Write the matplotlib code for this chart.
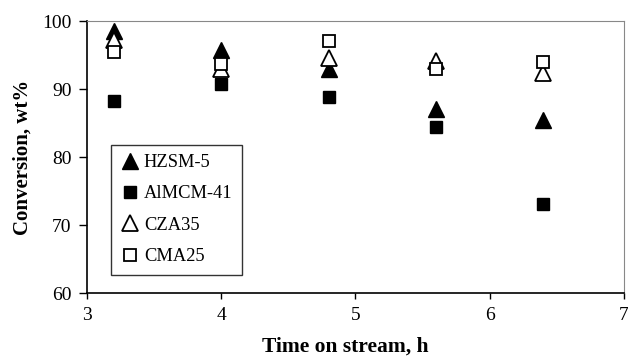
import matplotlib
matplotlib.use("Agg")
import matplotlib.pyplot as plt

# Tempo de reacao (h) e conversao (wt%) por catalisador
tempo = [3.2, 4.0, 4.8, 5.6, 6.4]
hzsm5 = [98.6, 95.7, 92.9, 87.1, 85.4]
almcm41 = [88.3, 90.8, 88.9, 84.4, 73.1]
cza35 = [97.2, 92.9, 94.6, 94.2, 92.4]
cma25 = [95.5, 93.7, 97.0, 93.0, 94.0]

plt.rcParams["font.family"] = ["Liberation Serif", "DejaVu Serif"]

fig = plt.figure(figsize=(6.28, 3.57), dpi=100)
ax = fig.add_axes([0.1385, 0.179, 0.855, 0.762])

ax.plot(tempo, hzsm5, linestyle="none", marker="^", markersize=11,
        color="black", label="HZSM-5")
ax.plot(tempo, almcm41, linestyle="none", marker="s", markersize=8,
        color="black", label="AlMCM-41")
ax.plot(tempo, cza35, linestyle="none", marker="^", markersize=11,
        markerfacecolor="white", markeredgecolor="black", markeredgewidth=1.3,
        label="CZA35")
ax.plot(tempo, cma25, linestyle="none", marker="s", markersize=8,
        markerfacecolor="white", markeredgecolor="black", markeredgewidth=1.3,
        label="CMA25")

ax.set_xlim(3, 7)
ax.set_ylim(60, 100)
ax.set_xticks([3, 4, 5, 6, 7])
ax.set_yticks([60, 70, 80, 90, 100])
ax.tick_params(direction="out", width=1, labelsize=14)
ax.tick_params(axis="y", length=6, pad=5)
ax.tick_params(axis="x", length=4, pad=6)

for lado in ["top", "right"]:
    ax.spines[lado].set_color("#888888")
ax.spines["left"].set_linewidth(1.2)
ax.spines["bottom"].set_linewidth(1.2)

ax.set_xlabel("Time on stream, h", fontsize=15.5, fontweight="bold")
ax.xaxis.set_label_coords(0.482, -0.16)
ax.set_ylabel("Conversion, wt%", fontsize=15, fontweight="bold", labelpad=7)

leg = ax.legend(loc="upper left", bbox_to_anchor=(0.044, 0.545), fontsize=13.3,
                frameon=True, fancybox=False, edgecolor="black",
                handletextpad=0.2, handlelength=1.1, labelspacing=0.78,
                borderpad=0.5, borderaxespad=0)
leg.get_frame().set_linewidth(1.0)

fig.savefig("out.png", dpi=100)
